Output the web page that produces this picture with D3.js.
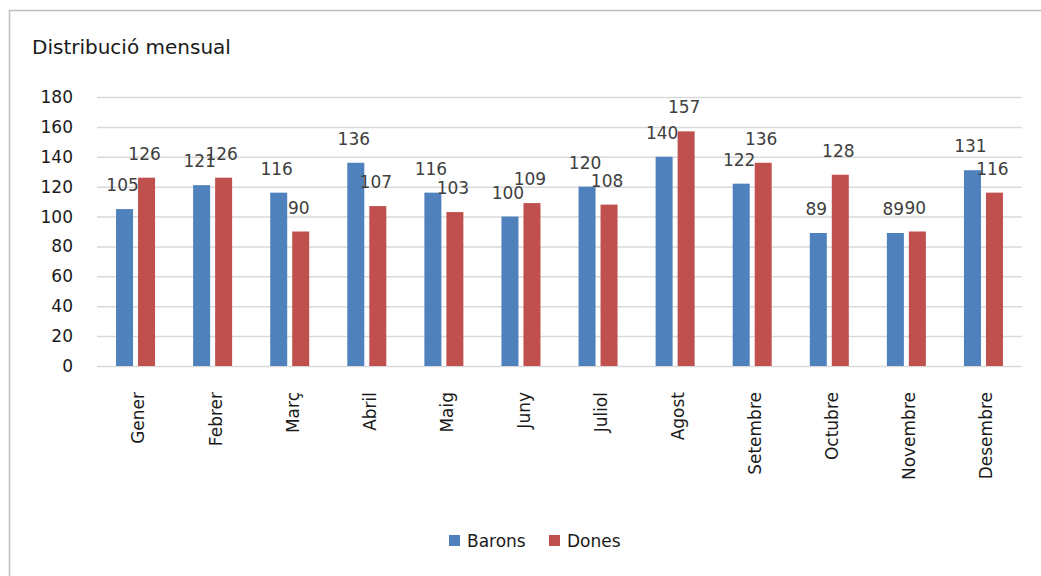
<!DOCTYPE html>
<html>
<head>
<meta charset="utf-8">
<script src="https://cdn.jsdelivr.net/npm/d3@7"></script>
<style>
  body { margin: 0; background: #fff; }
  svg { display: block; font-family: "DejaVu Sans", Verdana, sans-serif; }
</style>
</head>
<body>
<div id="chart"></div>
<script>
const months = ["Gener", "Febrer", "Març", "Abril", "Maig", "Juny", "Juliol",
                "Agost", "Setembre", "Octubre", "Novembre", "Desembre"];
const barons = [105, 121, 116, 136, 116, 100, 120, 140, 122, 89, 89, 131];
const dones  = [126, 126, 90, 107, 103, 109, 108, 157, 136, 128, 90, 116];
const yTicks = [0, 20, 40, 60, 80, 100, 120, 140, 160, 180];

const series = [
  { name: "Barons", values: barons, color: "#4F81BD" },
  { name: "Dones",  values: dones,  color: "#C0504D" }
];

const W = 1041, H = 576;
const PLOT = { left: 97, right: 1022, top: 97, bottom: 366 };
const BAR_W = 17;
const BAR_GAP = 5;

const svg = d3.select("#chart").append("svg")
  .attr("width", W)
  .attr("height", H);

// outer chart border (only left/top visible in the frame)
svg.append("rect")
  .attr("x", 9.5).attr("y", 10.5)
  .attr("width", 1200).attr("height", 800)
  .attr("fill", "#fff")
  .attr("stroke", "#BFBFBF")
  .attr("stroke-width", 1.5);

svg.append("text")
  .attr("x", 32)
  .attr("y", 54)
  .style("font-size", "20px")
  .style("fill", "#1a1a1a")
  .text("Distribució mensual");

const x = d3.scaleBand()
  .domain(months)
  .range([PLOT.left, PLOT.right]);

const y = d3.scaleLinear()
  .domain([0, 180])
  .range([PLOT.bottom, PLOT.top]);

// ── gridlines + y labels ──
const yAxis = svg.append("g")
  .attr("transform", `translate(${PLOT.left},0)`)
  .call(d3.axisLeft(y).tickValues(yTicks).tickSize(-(PLOT.right - PLOT.left)).tickPadding(24));

yAxis.select(".domain").remove();
yAxis.selectAll(".tick line")
  .attr("stroke", "#D9D9D9")
  .attr("stroke-width", 1.5);
yAxis.selectAll(".tick text")
  .style("font-size", "17px")
  .style("font-family", "DejaVu Sans, sans-serif")
  .attr("fill", "#1a1a1a");

// ── bars ──
const offsets = [-(BAR_GAP / 2 + BAR_W), BAR_GAP / 2];

series.forEach((s, si) => {
  const g = svg.append("g").attr("class", "series-" + si);

  g.selectAll("rect")
    .data(s.values)
    .join("rect")
    .attr("x", (d, i) => x(months[i]) + x.bandwidth() / 2 + offsets[si])
    .attr("y", d => y(d))
    .attr("width", BAR_W)
    .attr("height", d => y(0) - y(d))
    .attr("fill", s.color);

  g.selectAll("text")
    .data(s.values)
    .join("text")
    .attr("x", (d, i) => x(months[i]) + x.bandwidth() / 2 + offsets[si] + BAR_W / 2 - 2)
    .attr("y", d => y(d) - 18)
    .style("font-size", "17px")
    .style("text-anchor", "middle")
    .attr("fill", "#404040")
    .text(d => d);
});

// ── month labels ──
svg.append("g")
  .selectAll("text")
  .data(months)
  .join("text")
  .attr("transform", d => `translate(${x(d) + x.bandwidth() / 2 + 3},392) rotate(-90)`)
  .attr("dy", "0.35em")
  .style("font-size", "17px")
  .style("text-anchor", "end")
  .attr("fill", "#1a1a1a")
  .text(d => d);

// ── legend ──
const legendItems = [
  { name: "Barons", color: "#4F81BD", x: 449 },
  { name: "Dones",  color: "#C0504D", x: 549 }
];
const lg = svg.append("g").attr("class", "legend");
lg.selectAll("rect")
  .data(legendItems)
  .join("rect")
  .attr("x", d => d.x)
  .attr("y", 535)
  .attr("width", 11)
  .attr("height", 11)
  .attr("fill", d => d.color);
lg.selectAll("text")
  .data(legendItems)
  .join("text")
  .attr("x", d => d.x + 18)
  .attr("y", 547)
  .style("font-size", "17px")
  .attr("fill", "#1a1a1a")
  .text(d => d.name);
</script>
</body>
</html>
